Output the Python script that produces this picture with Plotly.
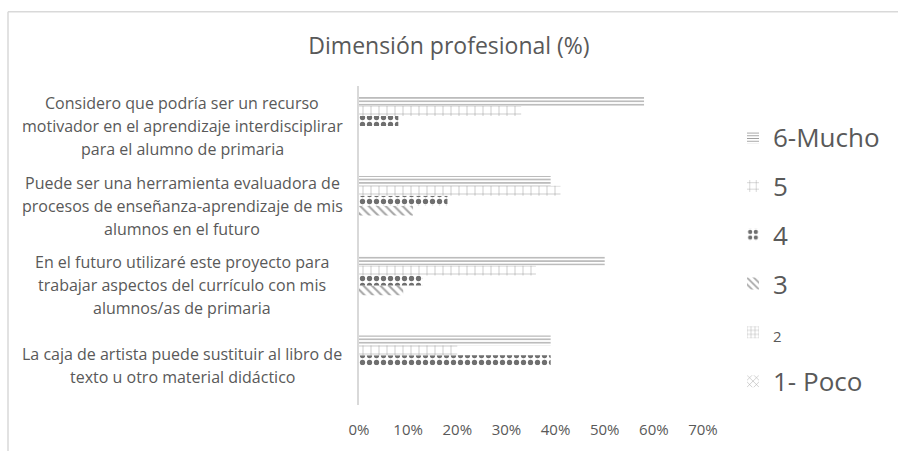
import plotly.graph_objects as go

categories = [
    "La caja de artista puede sustituir al libro de<br>texto u otro material didáctico",
    "En el futuro utilizaré este proyecto para<br>trabajar aspectos del currículo con mis<br>alumnos/as de primaria",
    "Puede ser una herramienta evaluadora de<br>procesos de enseñanza-aprendizaje de mis<br>alumnos en el futuro",
    "Considero que podría ser un recurso<br>motivador en el aprendizaje interdisciplirar<br>para el alumno de primaria",
]
series_names = ["1- Poco", "2", "3", "4", "5", "6-Mucho"]
legend_labels = ["1- Poco", "<span style='font-size:15px'>2</span>", "3", "4", "5", "6-Mucho"]
values = {
    "1- Poco": [0, 0, 0, 0],
    "2": [0, 0, 0, 0],
    "3": [0, 9, 11, 0],
    "4": [39, 13, 18, 8],
    "5": [20, 36, 41, 33],
    "6-Mucho": [39, 50, 39, 58],
}
x_ticks = [0, 10, 20, 30, 40, 50, 60, 70]

patterns = {
    "1- Poco": dict(shape="x", size=6, solidity=0.2, fgcolor="#a6a6a6"),
    "2": dict(shape="+", size=5, solidity=0.2, fgcolor="#a6a6a6"),
    "3": dict(shape="\\", size=6, solidity=0.35, fgcolor="#a6a6a6"),
    "4": dict(shape=".", size=7, solidity=0.45, fgcolor="#6f6f6f"),
    "5": dict(shape="+", size=8, solidity=0.12, fgcolor="#9a9a9a"),
    "6-Mucho": dict(shape="-", size=3.4, solidity=0.35, fgcolor="#a0a0a0"),
}

W, H = 898, 451
L, R, T, B = 359, 195, 86, 43
PW = W - L - R

fig = go.Figure()
n_series = len(series_names)
for k, (name, lab) in enumerate(zip(series_names, legend_labels)):
    p = patterns[name]
    fig.add_trace(go.Bar(
        y=list(range(len(categories))), x=values[name], orientation="h", name=lab,
        legendgroup=name, legendrank=(n_series - k) * 100,
        marker=dict(color="white", line=dict(width=0),
                    pattern=dict(shape=p["shape"], size=p["size"], solidity=p["solidity"],
                                 fgcolor=p["fgcolor"], bgcolor="white", fillmode="replace")),
    ))

# category labels (centered lines, Excel-like spacing)
label_center_px = 182
for i, cat in enumerate(categories):
    lines = cat.split("<br>")
    n = len(lines)
    for j, line in enumerate(lines):
        fig.add_annotation(
            x=(label_center_px - L) / PW, xref="paper", y=i, yref="y",
            text=line, showarrow=False, xanchor="center", yanchor="middle",
            yshift=-(j - (n - 1) / 2) * 23,
            font=dict(size=16, color="#595959"),
        )

# outer chart frame (partially visible)
fig.add_shape(type="line", xref="paper", yref="paper",
              x0=(8 - L) / PW, x1=(W + 5 - L) / PW, y0=1 + (T - 11) / (H - T - B), y1=1 + (T - 11) / (H - T - B),
              line=dict(color="#d9d9d9", width=1.5))
fig.add_shape(type="line", xref="paper", yref="paper",
              x0=(8 - L) / PW, x1=(8 - L) / PW, y0=1 + (T - 11) / (H - T - B), y1=-(B + 5) / (H - T - B),
              line=dict(color="#d9d9d9", width=1.5))

fig.update_layout(
    width=W, height=H,
    margin=dict(l=L, r=R, t=T, b=B),
    paper_bgcolor="white", plot_bgcolor="white",
    font=dict(family="Open Sans", color="#595959"),
    title=dict(text="Dimensión profesional (%)", x=0.5, xref="container", xanchor="center",
               y=1 - 46 / H, yref="container", yanchor="middle",
               font=dict(size=23, color="#595959")),
    barmode="group", bargap=0.255, bargroupgap=0,
    showlegend=True,
    legend=dict(x=(733 - L) / PW, xanchor="left", y=1 - (114 - T) / (H - T - B), yanchor="top",
                traceorder="grouped", tracegroupgap=12, valign="middle",
                font=dict(size=26, color="#595959"), bgcolor="rgba(0,0,0,0)"),
    xaxis=dict(range=[0, 70], tickvals=x_ticks, ticktext=[f"{v}%" for v in x_ticks],
               showgrid=False, zeroline=False, showline=False,
               tickfont=dict(size=15, color="#595959"), ticklabelstandoff=14),
    yaxis=dict(range=[-0.5, len(categories) - 0.5], showticklabels=False, showgrid=False,
               zeroline=False, showline=True, linecolor="#d9d9d9", linewidth=1.5),
)
fig.write_html("out.html")
